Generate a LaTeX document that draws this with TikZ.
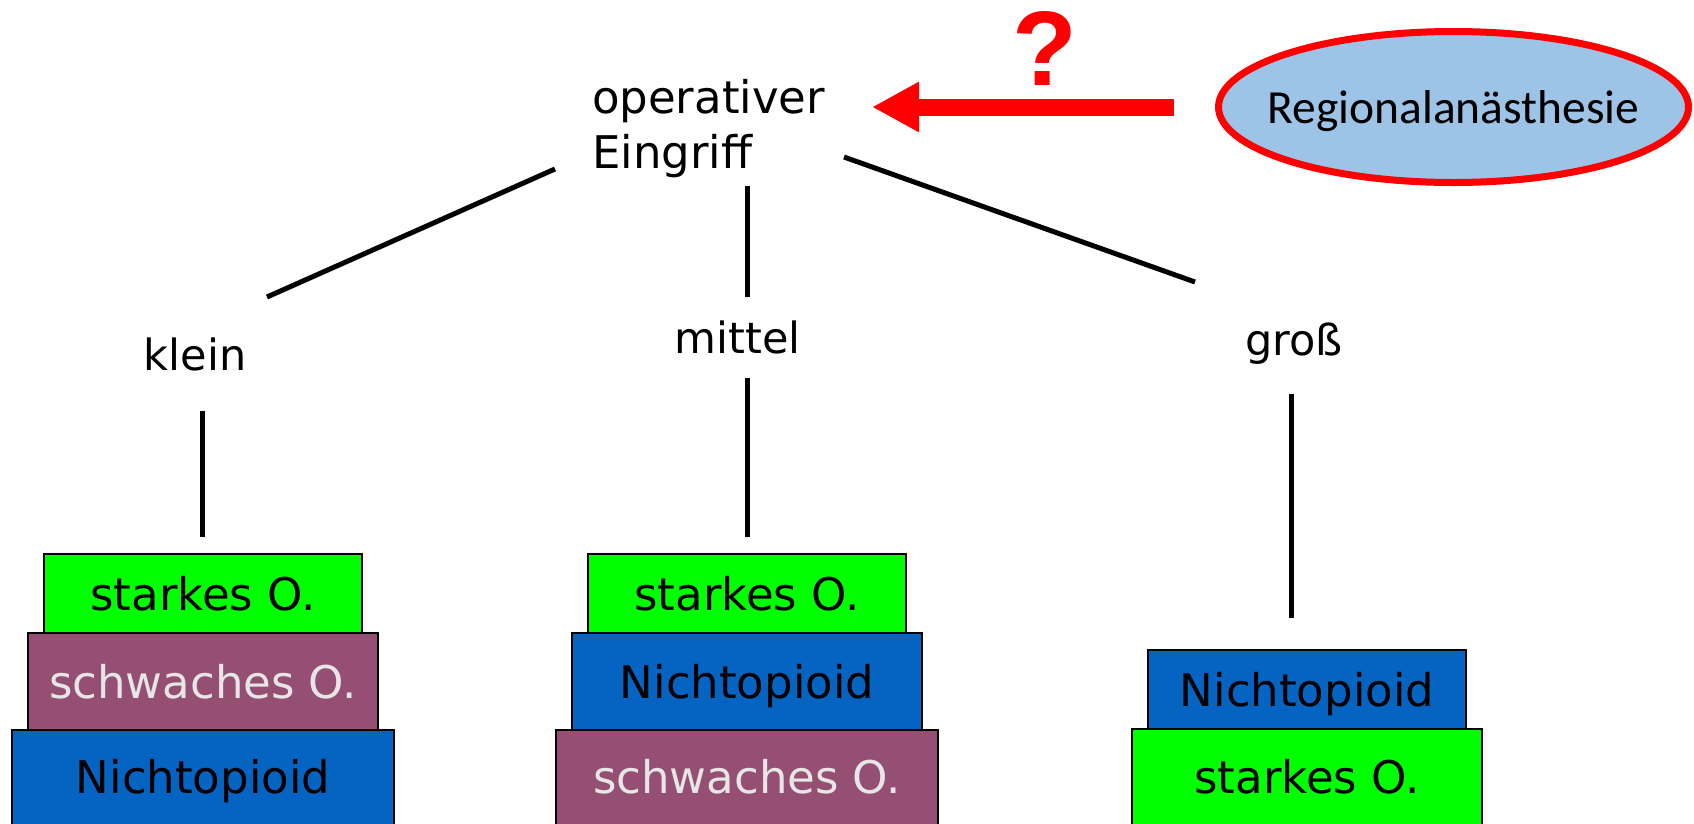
\documentclass[tikz,border=0pt]{standalone}
\usepackage{fontspec}
\setmainfont{DejaVu Sans}
\newfontfamily\calibrifont{Carlito}
\newfontfamily\arialfont{Liberation Sans}
\usetikzlibrary{arrows.meta,shapes.geometric}

\definecolor{strongop}{HTML}{00FF00}
\definecolor{weakop}{HTML}{954F72}
\definecolor{nonop}{HTML}{0563C1}
\definecolor{weaktext}{HTML}{E7E6E6}
\definecolor{regfill}{HTML}{9DC3E6}
\definecolor{alertred}{HTML}{FF0000}

\begin{document}
\begin{tikzpicture}[x=1pt,y=-1pt,
  label/.style={inner sep=0pt, anchor=base, font=\fontsize{43}{54}\selectfont},
  branch/.style={line width=5pt, black},
  layer/.style={draw=black, line width=2.5pt, rectangle, inner sep=0pt,
    font=\fontsize{45}{54}\selectfont, text height=34pt, text depth=0pt},
  baselayer/.style={layer, text height=24pt},
  narrowlayer/.style={minimum width=318pt, minimum height=79pt},
  midlayer/.style={minimum width=350pt, minimum height=97pt},
  widelayer/.style={minimum width=382pt, minimum height=102pt},
  strong/.style={fill=strongop, text=black},
  weak/.style={fill=weakop, text=weaktext},
  nonopioid/.style={fill=nonop, text=black},
]
\useasboundingbox (0,0) rectangle (1694,823);

% top of the tree and the regional anaesthesia question
% (multi-line node: the base anchor sits on the last line)
\node[inner sep=0pt, anchor=base west, align=left, font=\fontsize{45}{55}\selectfont]
  (op) at (592,168) {operativer\\Eingriff};
\node[ellipse, draw=alertred, line width=7pt, fill=regfill, inner sep=0pt,
  minimum width=470pt, minimum height=151pt,
  font=\calibrifont\fontsize{47.5}{56}\selectfont, text height=32pt, text depth=0pt]
  (ra) at (1453.5,107) {\makebox[0pt]{Regionalanästhesie}};
\node[inner sep=0pt, anchor=base, text=alertred,
  font=\arialfont\bfseries\fontsize{106}{106}\selectfont]
  (qm) at (1045,85) {?};
\coordinate (tip) at (872,107);
\draw[alertred, line width=17pt, shorten <=41pt,
  -{Triangle[length=47pt, width=47pt]}] (ra.west) -- (tip);

% size of the operation
\node[label] (klein) at (195,370) {klein};
\node[label] (mittel) at (737.5,353) {mittel};
\node[label] (gross) at (1294,355) {groß};

% analgesic stacks
\node[layer, narrowlayer, strong] (k1) at (203,593.5) {starkes O.};
\node[layer, midlayer, weak] (k2) at (203,681.5) {schwaches O.};
\node[baselayer, widelayer, nonopioid] (k3) at (203,781) {Nichtopioid};

\node[layer, narrowlayer, strong] (m1) at (747,593.5) {starkes O.};
\node[layer, midlayer, nonopioid] (m2) at (747,681.5) {Nichtopioid};
\node[baselayer, widelayer, weak] (m3) at (747,781) {schwaches O.};

\node[layer, narrowlayer, nonopioid] (g1) at (1307,689.5) {Nichtopioid};
\node[baselayer, midlayer, strong, minimum height=104pt] (g2) at (1307,781) {starkes O.};

% connector end points
\coordinate (opL) at (555,169);
\coordinate (kleinT) at (267,297);
\coordinate (opM) at (747,186);
\coordinate (mittelT) at (747,297);
\coordinate (opR) at (844,157);
\coordinate (grossT) at (1195,282);
\coordinate (kleinB) at (202,411);
\coordinate (k1T) at (202,537);
\coordinate (mittelB) at (747,378);
\coordinate (m1T) at (747,537);
\coordinate (grossB) at (1291,394);
\coordinate (g1T) at (1291,618);

\draw[branch] (opL) -- (kleinT);
\draw[branch] (opM) -- (mittelT);
\draw[branch] (opR) -- (grossT);
\draw[branch] (kleinB) -- (k1T);
\draw[branch] (mittelB) -- (m1T);
\draw[branch] (grossB) -- (g1T);
\end{tikzpicture}
\end{document}
